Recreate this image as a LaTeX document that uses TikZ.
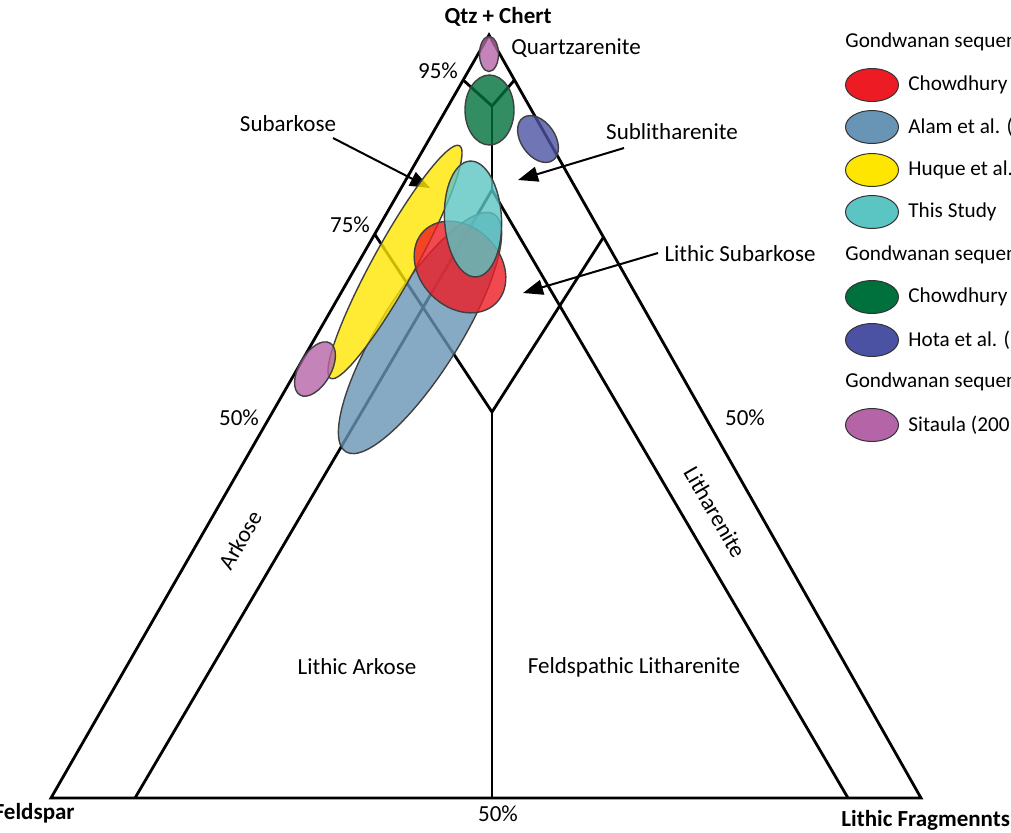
\documentclass[tikz,border=0pt]{standalone}
\usepackage{fontspec}
\setmainfont{Carlito}
\usepackage{tikz}
\usepackage{xcolor}
\usetikzlibrary{arrows.meta, positioning, calc}
\definecolor{chred}{RGB}{237,28,36}
\definecolor{alblue}{RGB}{104,148,181}
\definecolor{hqyellow}{RGB}{255,230,0}
\definecolor{stcyan}{RGB}{91,197,195}
\definecolor{chgreen}{RGB}{0,112,60}
\definecolor{htblue}{RGB}{75,82,163}
\definecolor{stpink}{RGB}{181,101,167}

\begin{document}
\begin{tikzpicture}[x=0.5pt,y=-0.5pt,
  frame/.style={line width=1.4pt},
  lbl/.style={font=\fontsize{11.5}{13}\selectfont, inner sep=0pt},
  keylbl/.style={font=\fontsize{10.6}{12}\selectfont, inner sep=0pt, anchor=west},
  corner/.style={font=\bfseries\fontsize{11.5}{13}\selectfont, inner sep=0pt},
  field/.style={draw=black!75, line width=0.7pt, fill opacity=0.8},
  key/.style={draw=black!80, line width=0.5pt},
  ptr/.style={line width=1pt, -{Triangle[length=10pt,width=7.5pt]}}]
\useasboundingbox (0,0) rectangle (1011,832);
% corners of the triangle
\coordinate (Q) at (489,35);
\coordinate (F) at (51,798);
\coordinate (L) at (921,798);
\coordinate (qm) at (492,190);
\coordinate (qy) at (492,106);
\coordinate (dm) at (492,412);
\draw[frame] (Q) -- (F) -- (L) -- cycle;
\draw[frame] (135,798) -- (qm) -- (848,798);
\draw[frame] ($(Q)!0.059!(F)$) -- (qy) -- ($(Q)!0.059!(L)$);
\draw[frame] (qy) -- (qm);
\draw[frame] ($(Q)!0.261!(F)$) -- (dm) -- ($(Q)!0.265!(L)$);
\draw[frame] (dm) -- (492,798);

% labels
\node[corner] (qtz) at (498,17) {Qtz + Chert};
\node[corner, anchor=east] (fsp) at (75,813) {Feldspar};
\node[corner, anchor=west] (lit) at (841,820) {Lithic Fragmennts};
\node[lbl, anchor=west] (qzar) at (511,48) {Quartzarenite};
\node[lbl] (p95) at (438,71) {95\%};
\node[lbl] (p75) at (350,225) {75\%};
\node[lbl] (p50l) at (239,418) {50\%};
\node[lbl] (p50r) at (745,418) {50\%};
\node[lbl] (p50b) at (498,814) {50\%};
\node[lbl] (sbark) at (288,124) {Subarkose};
\node[lbl] (sblit) at (672,132) {Sublitharenite};
\node[lbl] (lsbark) at (740,254) {Lithic Subarkose};
\node[lbl, rotate=60] (ark) at (240,540) {Arkose};
\node[lbl, rotate=-60] (lith) at (715,512) {Litharenite};
\node[lbl] (lark) at (357,667) {Lithic Arkose};
\node[lbl] (flith) at (634,667) {Feldspathic Litharenite};

% pointers
\coordinate (sbarkend) at (430,188);
\coordinate (sblitend) at (518,180);
\coordinate (lsbarkend) at (523,293);
\draw[ptr] (333,138) -- (sbarkend);
\draw[ptr] (624,148) -- (sblitend);
\draw[ptr] (658,253) -- (lsbarkend);

% data fields
\draw[field, fill=alblue, rotate around={58:(420,333)}] (420,333) ellipse [x radius=140, y radius=40];
\draw[field, fill=hqyellow, rotate around={61:(395,262)}] (395,262) ellipse [x radius=133, y radius=21];
\draw[field, fill=stpink, rotate around={60:(315,369)}] (315,369) ellipse [x radius=30, y radius=16];
\draw[field, fill=chred, rotate around={-45:(460,267)}] (460,267) ellipse [x radius=51, y radius=40];
\draw[field, fill=stcyan, rotate around={3:(473,219)}] (473,219) ellipse [x radius=28.5, y radius=58];
\draw[field, fill=chgreen] (489.5,110) ellipse [x radius=24.5, y radius=35];
\draw[field, fill=htblue, rotate around={-55:(538,139)}] (538,139) ellipse [x radius=26, y radius=17];
\draw[field, fill=stpink] (489,54) ellipse [x radius=9.5, y radius=17.5];

% legend
\node[keylbl] (hd1) at (845,42) {Gondwanan sequen};
\draw[key, fill=chred] (872,85) ellipse [x radius=26.5, y radius=16.5];
\node[keylbl] (k1) at (908,85) {Chowdhury};
\draw[key, fill=alblue] (872,127) ellipse [x radius=26.5, y radius=16.5];
\node[keylbl] (k2) at (908,127) {Alam et al. (2};
\draw[key, fill=hqyellow] (872,170) ellipse [x radius=26.5, y radius=16.5];
\node[keylbl] (k3) at (908,170) {Huque et al.};
\draw[key, fill=stcyan] (872,212) ellipse [x radius=26.5, y radius=16.5];
\node[keylbl] (k4) at (908,212) {This Study};
\node[keylbl] (hd2) at (845,255) {Gondwanan sequen};
\draw[key, fill=chgreen] (872,297) ellipse [x radius=26.5, y radius=16.5];
\node[keylbl] (k5) at (908,297) {Chowdhury};
\draw[key, fill=htblue] (872,340) ellipse [x radius=26.5, y radius=16.5];
\node[keylbl] (k6) at (908,340) {Hota et al. (2};
\node[keylbl] (hd3) at (845,382) {Gondwanan sequen};
\draw[key, fill=stpink] (872,425) ellipse [x radius=26.5, y radius=16.5];
\node[keylbl] (k7) at (908,425) {Sitaula (200};
\end{tikzpicture}
\end{document}
